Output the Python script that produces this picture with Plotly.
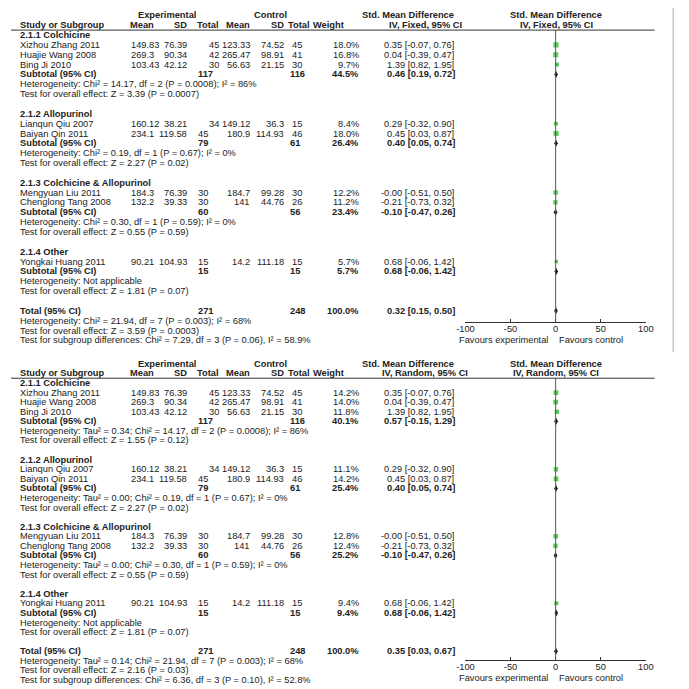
import plotly.graph_objects as go

# the page puts the figure a few pixels in from the corner
OFFX, OFFY = 11, 8
W, H = 689 - OFFX, 689 - OFFY

# ---- study level data ----
studies = ["Xizhou Zhang 2011", "Huajie Wang 2008", "Bing Ji 2010", "Lianqun Qiu 2007",
           "Baiyan Qin 2011", "Mengyuan Liu 2011", "Chenglong Tang 2008", "Yongkai Huang 2011"]
study_group = [0, 0, 0, 1, 1, 2, 2, 3]
exp_mean = [149.83, 269.3, 103.43, 160.12, 234.1, 184.3, 132.2, 90.21]
exp_sd = [76.39, 90.34, 42.12, 38.21, 119.58, 76.39, 39.33, 104.93]
exp_n = [45, 42, 30, 34, 45, 30, 30, 15]
ctl_mean = [123.33, 265.47, 56.63, 149.12, 180.9, 184.7, 141, 14.2]
ctl_sd = [74.52, 98.91, 21.15, 36.3, 114.93, 99.28, 44.76, 111.18]
ctl_n = [45, 41, 30, 15, 46, 30, 26, 15]
w_fixed = [18.0, 16.8, 9.7, 8.4, 18.0, 12.2, 11.2, 5.7]
w_random = [14.2, 14.0, 11.8, 11.1, 14.2, 12.8, 12.4, 9.4]
smd = [0.35, 0.04, 1.39, 0.29, 0.45, -0.0, -0.21, 0.68]
ci_lo = [-0.07, -0.39, 0.82, -0.32, 0.03, -0.51, -0.73, -0.06]
ci_hi = [0.76, 0.47, 1.95, 0.90, 0.87, 0.50, 0.32, 1.42]

# ---- subgroup data ----
groups = ["2.1.1 Colchicine", "2.1.2 Allopurinol", "2.1.3 Colchicine & Allopurinol", "2.1.4 Other"]
grp_exp_n = [117, 79, 60, 15]
grp_ctl_n = [116, 61, 56, 15]
grp_w_fixed = [44.5, 26.4, 23.4, 5.7]
grp_w_random = [40.1, 25.4, 25.2, 9.4]
grp_fixed = [(0.46, 0.19, 0.72), (0.40, 0.05, 0.74), (-0.10, -0.47, 0.26), (0.68, -0.06, 1.42)]
grp_random = [(0.57, -0.15, 1.29), (0.40, 0.05, 0.74), (-0.10, -0.47, 0.26), (0.68, -0.06, 1.42)]
grp_chi2 = [14.17, 0.19, 0.30, None]
grp_df = [2, 1, 1, None]
grp_p = ["0.0008", "0.67", "0.59", None]
grp_i2 = [86, 0, 0, None]
grp_tau2 = [0.34, 0.00, 0.00, None]
grp_z_fixed = [(3.39, "0.0007"), (2.27, "0.02"), (0.55, "0.59"), (1.81, "0.07")]
grp_z_random = [(1.55, "0.12"), (2.27, "0.02"), (0.55, "0.59"), (1.81, "0.07")]

# ---- overall ----
tot_exp_n, tot_ctl_n = 271, 248
tot_fixed = (0.32, 0.15, 0.50)
tot_random = (0.35, 0.03, 0.67)
tot_chi2, tot_df, tot_p, tot_i2, tot_tau2 = 21.94, 7, "0.003", 68, 0.14
tot_z_fixed = (3.59, "0.0003")
tot_z_random = (2.16, "0.03")
sub_fixed = (7.29, 3, "0.06", 58.9)
sub_random = (6.36, 3, "0.10", 52.8)

xticks = [-100, -50, 0, 50, 100]

FAMILY = "Liberation Sans, Arial, sans-serif"
INK = "#222"
GREEN = "#1fb51f"

fig = go.Figure()
annotations = []
shapes = []


def px2x(px):
    return (px - OFFX) / W


def py2y(py):
    return 1 - (py - OFFY) / H


def draw_panel(k, model, weights, gw, gest, test, zs, tz, sub, random_eff):
    # pixel geometry of each panel (page pixels)
    geo = [dict(row0=35, pitch=9.85, top=10, bottom=355, axis=322, size=9.3),
           dict(row0=383, pitch=9.58, top=358, bottom=689, axis=660, size=9.3)][k]
    font = dict(family=FAMILY, size=geo["size"], color=INK)
    sfx = "" if k == 0 else "2"
    yref = "y" + sfx
    r_top = (geo["top"] - geo["row0"]) / geo["pitch"]
    r_bot = (geo["bottom"] - geo["row0"]) / geo["pitch"]
    r_axis = (geo["axis"] - geo["row0"]) / geo["pitch"]

    def txt(xpx, r, s, anchor="left", bold=False):
        annotations.append(dict(x=px2x(xpx), xref="paper", y=r, yref=yref,
                                text=f"<b>{s}</b>" if bold else s, showarrow=False,
                                xanchor=anchor, yanchor="middle", font=font, borderpad=0))

    # headers
    txt(165, -2, "Experimental", "center", True)
    txt(271, -2, "Control", "center", True)
    txt(412, -2, "Std. Mean Difference", "center", True)
    txt(564, -2, "Std. Mean Difference", "center", True)
    txt(13, -1, "Study or Subgroup", "left", True)
    txt(153, -1, "Mean", "right", True)
    txt(186, -1, "SD", "right", True)
    txt(219, -1, "Total", "right", True)
    txt(251, -1, "Mean", "right", True)
    txt(286, -1, "SD", "right", True)
    txt(313, -1, "Total", "right", True)
    txt(314, -1, "Weight", "left", True)
    txt(430, -1, f"IV, {model}, 95% CI", "center", True)
    txt(564, -1, f"IV, {model}, 95% CI", "center", True)
    shapes.append(dict(type="line", xref="paper", yref=yref, x0=px2x(5), x1=px2x(665),
                       y0=-0.5, y1=-0.5, line=dict(color="#333", width=1)))

    sq_x, sq_y, sq_s, sq_lo, sq_hi = [], [], [], [], []
    dm_x, dm_y = [], []
    r = 0
    for g, name in enumerate(groups):
        txt(13, r, name, bold=True)
        r += 1
        for i, s in enumerate(studies):
            if study_group[i] != g:
                continue
            txt(13, r, s)
            txt(127, r, str(exp_mean[i]), "left")
            txt(186, r, str(exp_sd[i]), "right")
            if i < 4:
                txt(219, r, str(exp_n[i]), "right")
            else:
                txt(196, r, str(exp_n[i]), "left")
            txt(251, r, str(ctl_mean[i]), "right")
            txt(286, r, str(ctl_sd[i]), "right")
            txt(292, r, str(ctl_n[i]), "left")
            txt(363, r, f"{weights[i]:.1f}%", "right")
            txt(460, r, f"{smd[i]:.2f} [{ci_lo[i]:.2f}, {ci_hi[i]:.2f}]", "right")
            sq_x.append(smd[i]); sq_y.append(r); sq_s.append(weights[i] ** 0.5 + 1)
            sq_lo.append(smd[i] - ci_lo[i]); sq_hi.append(ci_hi[i] - smd[i])
            r += 1
        est = gest[g]
        txt(13, r, "Subtotal (95% CI)", bold=True)
        txt(196, r, str(grp_exp_n[g]), "left", True)
        txt(290, r, str(grp_ctl_n[g]), "left", True)
        txt(363, r, f"{gw[g]:.1f}%", "right", True)
        txt(461, r, f"{est[0]:.2f} [{est[1]:.2f}, {est[2]:.2f}]", "right", True)
        dm_x.append(est[0]); dm_y.append(r)
        r += 1
        if grp_chi2[g] is None:
            het = "Heterogeneity: Not applicable"
        else:
            het = (f"Chi² = {grp_chi2[g]:.2f}, df = {grp_df[g]} (P = {grp_p[g]}); "
                   f"I² = {grp_i2[g]}%")
            het = ("Heterogeneity: " + (f"Tau² = {grp_tau2[g]:.2f}; " if random_eff else "") + het)
        txt(13, r, het)
        r += 1
        txt(13, r, f"Test for overall effect: Z = {zs[g][0]:.2f} (P = {zs[g][1]})")
        r += 2

    txt(13, r, "Total (95% CI)", bold=True)
    txt(196, r, str(tot_exp_n), "left", True)
    txt(290, r, str(tot_ctl_n), "left", True)
    txt(363, r, "100.0%", "right", True)
    txt(461, r, f"{test[0]:.2f} [{test[1]:.2f}, {test[2]:.2f}]", "right", True)
    dm_x.append(test[0]); dm_y.append(r)
    r += 1
    het = (("Heterogeneity: " + (f"Tau² = {tot_tau2:.2f}; " if random_eff else ""))
           + f"Chi² = {tot_chi2:.2f}, df = {tot_df} (P = {tot_p}); I² = {tot_i2}%")
    txt(13, r, het)
    r += 1
    txt(13, r, f"Test for overall effect: Z = {tz[0]:.2f} (P = {tz[1]})")
    r += 1
    txt(13, r, f"Test for subgroup differences: Chi² = {sub[0]:.2f}, df = {sub[1]} "
               f"(P = {sub[2]}), I² = {sub[3]:.1f}%")

    # favours labels under the axis
    fav_r = r_axis + 18 / geo["pitch"]
    txt(510, fav_r, "Favours experimental", "center")
    txt(600, fav_r, "Favours control", "center")

    # line of no effect
    shapes.append(dict(type="line", xref="x" + sfx, yref=yref, x0=0, x1=0,
                       y0=-0.5, y1=r_axis, line=dict(color="#555", width=1)))

    fig.add_trace(go.Scatter(
        x=sq_x, y=sq_y, mode="markers", xaxis="x" + sfx, yaxis=yref, showlegend=False,
        marker=dict(symbol="square", size=sq_s, color=GREEN, line=dict(width=0)),
        error_x=dict(type="data", symmetric=False, array=sq_hi, arrayminus=sq_lo,
                     color="#333", thickness=1, width=0)))
    fig.add_trace(go.Scatter(
        x=dm_x, y=dm_y, mode="markers", xaxis="x" + sfx, yaxis=yref, showlegend=False,
        marker=dict(symbol="diamond-tall", size=5, color="#111", line=dict(width=0))))

    ax = dict(domain=[px2x(471), px2x(656)], range=[-100, 100], anchor="free",
              position=py2y(geo["axis"]), showline=True, linecolor="#333", linewidth=1,
              ticks="inside", ticklen=3, tickcolor="#333", tickvals=xticks,
              ticktext=[str(v) for v in xticks], tickfont=font, ticklabelstandoff=-2,
              showgrid=False, zeroline=False, fixedrange=True)
    ay = dict(domain=[max(0, py2y(geo["bottom"])), py2y(geo["top"])], range=[r_bot, r_top],
              visible=False, anchor="x" + sfx, fixedrange=True)
    fig.update_layout({"xaxis" + sfx: ax, "yaxis" + sfx: ay})


draw_panel(0, "Fixed", w_fixed, grp_w_fixed, grp_fixed, tot_fixed, grp_z_fixed,
           tot_z_fixed, sub_fixed, False)
draw_panel(1, "Random", w_random, grp_w_random, grp_random, tot_random, grp_z_random,
           tot_z_random, sub_random, True)

# right border line of the top panel
shapes.append(dict(type="line", xref="paper", yref="paper", x0=px2x(684), x1=px2x(684),
                   y0=1, y1=py2y(352), line=dict(color="#aaa", width=1)))

fig.update_layout(width=W, height=H, autosize=False, margin=dict(l=0, r=0, t=0, b=0),
                  paper_bgcolor="white", plot_bgcolor="white", showlegend=False,
                  annotations=annotations, shapes=shapes,
                  font=dict(family=FAMILY, size=9.3, color=INK))

fig.write_html("out.html")
